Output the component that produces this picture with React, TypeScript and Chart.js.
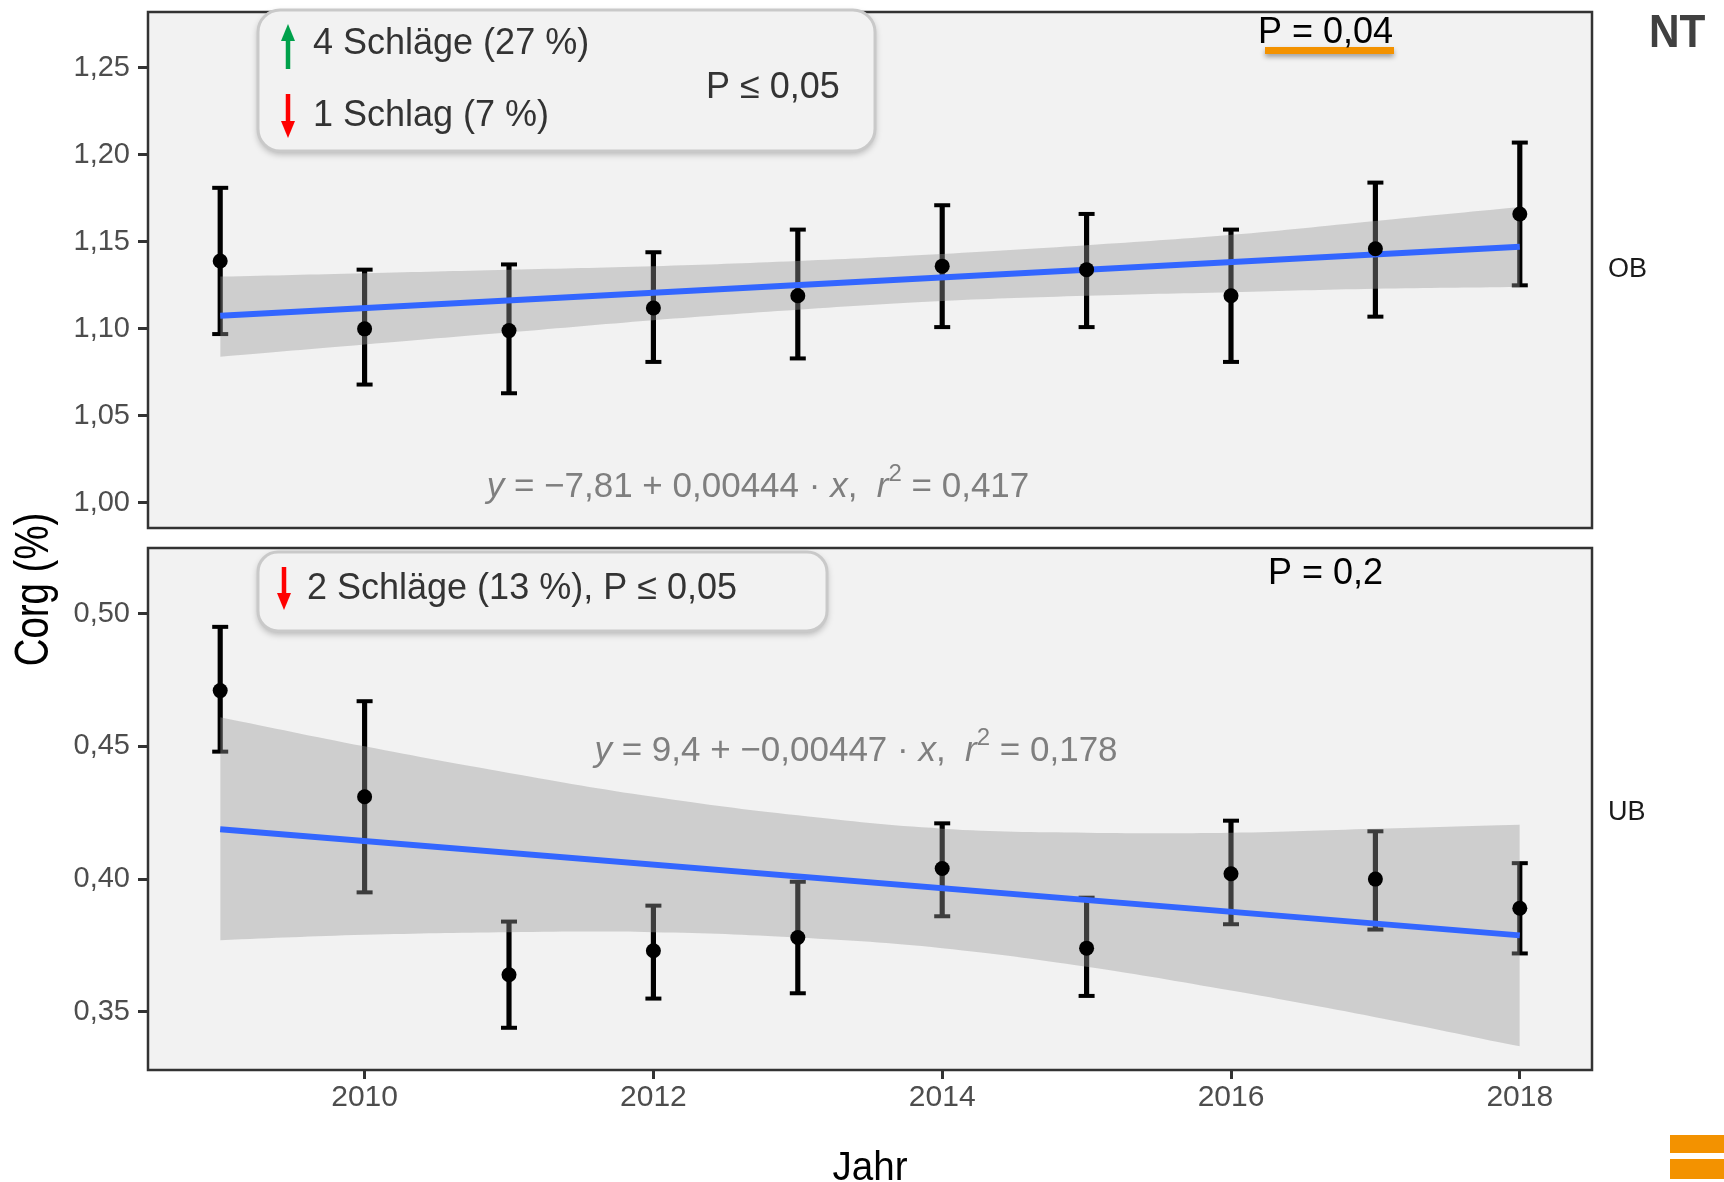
import React, { useEffect, useRef } from "react";
import { Chart, registerables } from "chart.js";

Chart.register(...registerables);

// ---------- data ----------
const years = [2009, 2010, 2011, 2012, 2013, 2014, 2015, 2016, 2017, 2018];
const fitYears = [2009, 2018];
const xTicks = [2010, 2012, 2014, 2016, 2018];

// OB (Oberboden)
const obMean = [1.139, 1.1, 1.099, 1.112, 1.119, 1.136, 1.134, 1.119, 1.146, 1.166];
const obLow = [1.097, 1.068, 1.063, 1.081, 1.083, 1.101, 1.101, 1.081, 1.107, 1.125];
const obHigh = [1.181, 1.134, 1.137, 1.144, 1.157, 1.171, 1.166, 1.157, 1.184, 1.207];
const obBandLow = [1.084, 1.091, 1.098, 1.105, 1.111, 1.116, 1.119, 1.121, 1.123, 1.124];
const obBandHigh = [1.13, 1.132, 1.134, 1.136, 1.139, 1.143, 1.148, 1.154, 1.162, 1.17];
const obFit = [1.1075, 1.1472];
const obTicks = [1.0, 1.05, 1.1, 1.15, 1.2, 1.25];

// UB (Unterboden)
const ubMean = [0.471, 0.431, 0.364, 0.373, 0.378, 0.404, 0.374, 0.402, 0.4, 0.389];
const ubLow = [0.448, 0.395, 0.344, 0.355, 0.357, 0.386, 0.356, 0.383, 0.381, 0.372];
const ubHigh = [0.495, 0.467, 0.384, 0.39, 0.399, 0.421, 0.393, 0.422, 0.418, 0.406];
const ubBandLow = [0.377, 0.379, 0.38, 0.38, 0.378, 0.374, 0.367, 0.358, 0.348, 0.337];
const ubBandHigh = [0.461, 0.45, 0.44, 0.431, 0.424, 0.419, 0.4175, 0.4175, 0.419, 0.4205];
const ubFit = [0.4188, 0.3788];
const ubTicks = [0.35, 0.4, 0.45, 0.5];

// ---------- layout / style ----------
const W = 1724;
const H = 1182;
const FONT = "'Liberation Sans', Arial, Helvetica, sans-serif";
const PANEL_BG = "#f2f2f2";

type Seg = { t: string; it?: boolean; sup?: boolean };

function drawSegs(ctx: CanvasRenderingContext2D, segs: Seg[], cx: number, by: number, size: number, color: string) {
  ctx.save();
  ctx.fillStyle = color;
  ctx.textBaseline = "alphabetic";
  ctx.textAlign = "left";
  const fontFor = (s: Seg) => `${s.it ? "italic " : ""}${s.sup ? Math.round(size * 0.68) : size}px ${FONT}`;
  let total = 0;
  const widths = segs.map((s) => {
    ctx.font = fontFor(s);
    const w = ctx.measureText(s.t).width;
    total += w;
    return w;
  });
  let x = cx - total / 2;
  segs.forEach((s, i) => {
    ctx.font = fontFor(s);
    ctx.fillText(s.t, x, s.sup ? by - size * 0.45 : by);
    x += widths[i];
  });
  ctx.restore();
}

function text(
  ctx: CanvasRenderingContext2D,
  s: string,
  x: number,
  y: number,
  size: number,
  color: string,
  opts: { bold?: boolean; scaleX?: number; align?: CanvasTextAlign } = {}
) {
  ctx.save();
  ctx.translate(x, y);
  if (opts.scaleX) ctx.scale(opts.scaleX, 1);
  ctx.font = `${opts.bold ? "bold " : ""}${size}px ${FONT}`;
  ctx.fillStyle = color;
  ctx.textAlign = opts.align || "left";
  ctx.textBaseline = "alphabetic";
  ctx.fillText(s, 0, 0);
  ctx.restore();
}

function box(ctx: CanvasRenderingContext2D, x: number, y: number, w: number, h: number, r: number) {
  ctx.save();
  ctx.shadowColor = "rgba(0,0,0,0.28)";
  ctx.shadowBlur = 7;
  ctx.shadowOffsetY = 3;
  ctx.beginPath();
  (ctx as any).roundRect(x, y, w, h, r);
  ctx.fillStyle = PANEL_BG;
  ctx.fill();
  ctx.restore();
  ctx.save();
  ctx.beginPath();
  (ctx as any).roundRect(x, y, w, h, r);
  ctx.strokeStyle = "#c9c9c9";
  ctx.lineWidth = 3;
  ctx.stroke();
  ctx.restore();
}

function arrow(ctx: CanvasRenderingContext2D, x: number, yTail: number, yTip: number, color: string) {
  const dir = yTip < yTail ? -1 : 1;
  const headLen = 17;
  const headW = 7;
  ctx.save();
  ctx.strokeStyle = color;
  ctx.fillStyle = color;
  ctx.lineWidth = 4.5;
  ctx.beginPath();
  ctx.moveTo(x, yTail);
  ctx.lineTo(x, yTip - dir * headLen + dir * 2);
  ctx.stroke();
  ctx.beginPath();
  ctx.moveTo(x, yTip);
  ctx.lineTo(x - headW, yTip - dir * headLen);
  ctx.lineTo(x + headW, yTip - dir * headLen);
  ctx.closePath();
  ctx.fill();
  ctx.restore();
}

type PanelSpec = {
  mean: number[];
  low: number[];
  high: number[];
  bandLow: number[];
  bandHigh: number[];
  fit: number[];
  yMin: number;
  yMax: number;
  yTicks: number[];
  padding: { top: number; right: number; bottom: number; left: number };
  showX: boolean;
  extra: (ctx: CanvasRenderingContext2D, chart: any) => void;
};

function makeConfig(p: PanelSpec): any {
  const datasets: any[] = [
    {
      type: "bar",
      data: years.map((x, i) => ({ x, y: [p.low[i], p.high[i]] })),
      backgroundColor: "#000",
      borderWidth: 0,
      barThickness: 4.5,
      order: 3,
    },
    {
      type: "scatter",
      data: years.flatMap((x, i) => [
        { x, y: p.low[i] },
        { x, y: p.high[i] },
      ]),
      pointStyle: "line",
      pointRadius: 8,
      pointBorderWidth: 4,
      pointBorderColor: "#000",
      borderColor: "#000",
      order: 3,
    },
    {
      type: "line",
      data: years.map((x, i) => ({ x, y: p.bandLow[i] })),
      borderColor: "rgba(0,0,0,0)",
      borderWidth: 1,
      pointRadius: 0,
      fill: false,
      tension: 0.4,
      order: 2,
    },
    {
      type: "line",
      data: years.map((x, i) => ({ x, y: p.bandHigh[i] })),
      borderColor: "rgba(0,0,0,0)",
      borderWidth: 1,
      pointRadius: 0,
      fill: "-1",
      backgroundColor: "rgba(153,153,153,0.4)",
      tension: 0.4,
      order: 2,
    },
    {
      type: "line",
      data: fitYears.map((x, i) => ({ x, y: p.fit[i] })),
      borderColor: "#3366FF",
      borderWidth: 6,
      pointRadius: 0,
      fill: false,
      order: 1,
    },
    {
      type: "scatter",
      data: years.map((x, i) => ({ x, y: p.mean[i] })),
      pointRadius: 7.5,
      pointBackgroundColor: "#000",
      pointBorderWidth: 0,
      borderWidth: 0,
      order: 0,
    },
  ];

  const panelPlugin = {
    id: "panel",
    beforeDraw(chart: any) {
      const { ctx, chartArea: a } = chart;
      ctx.save();
      ctx.fillStyle = PANEL_BG;
      ctx.fillRect(a.left, a.top, a.right - a.left, a.bottom - a.top);
      ctx.restore();
    },
    afterDatasetsDraw(chart: any) {
      const { ctx, chartArea: a } = chart;
      ctx.save();
      ctx.strokeStyle = "#333333";
      ctx.lineWidth = 2.5;
      ctx.strokeRect(a.left, a.top, a.right - a.left, a.bottom - a.top);
      ctx.restore();
    },
    afterDraw(chart: any) {
      p.extra(chart.ctx, chart);
    },
  };

  const tickGrid = (len: number) => ({
    display: true,
    offset: false,
    drawOnChartArea: false,
    drawTicks: true,
    tickLength: len,
    tickWidth: 3,
    tickColor: "#333333",
    color: "#333333",
  });

  return {
    type: "line",
    data: { datasets },
    plugins: [panelPlugin],
    options: {
      responsive: false,
      animation: false,
      devicePixelRatio: 1,
      events: [],
      layout: { padding: p.padding },
      plugins: { legend: { display: false }, tooltip: { enabled: false } },
      scales: {
        x: {
          type: "linear",
          offset: false,
          min: 2008.5,
          max: 2018.5,
          display: p.showX,
          afterBuildTicks: (s: any) => {
            s.ticks = xTicks.map((v) => ({ value: v }));
          },
          afterFit: (s: any) => {
            if (p.showX) {
              s.height = 112;
              s.paddingLeft = 0;
              s.paddingRight = 0;
            }
          },
          grid: tickGrid(9),
          border: { display: false },
          ticks: {
            font: { size: 30, family: FONT },
            color: "#4d4d4d",
            padding: 1,
            maxRotation: 0,
            autoSkip: false,
            callback: (v: any) => String(v),
          },
        },
        y: {
          type: "linear",
          offset: false,
          min: p.yMin,
          max: p.yMax,
          afterBuildTicks: (s: any) => {
            s.ticks = p.yTicks.map((v) => ({ value: v }));
          },
          afterFit: (s: any) => {
            s.width = 148;
            s.paddingTop = 0;
            s.paddingBottom = 0;
          },
          grid: tickGrid(10),
          border: { display: false },
          ticks: {
            font: { size: 29, family: FONT },
            color: "#4d4d4d",
            padding: 8,
            callback: (v: any) => Number(v).toFixed(2).replace(".", ","),
          },
        },
      },
    },
  };
}

export default function App() {
  const topRef = useRef<HTMLCanvasElement>(null);
  const botRef = useRef<HTMLCanvasElement>(null);

  useEffect(() => {
    document.body.style.margin = "0";
    document.body.style.overflow = "hidden";
    Chart.defaults.font.family = FONT;

    const top = new Chart(
      topRef.current as HTMLCanvasElement,
      makeConfig({
        mean: obMean,
        low: obLow,
        high: obHigh,
        bandLow: obBandLow,
        bandHigh: obBandHigh,
        fit: obFit,
        yMin: 0.9856,
        yMax: 1.282,
        yTicks: obTicks,
        padding: { top: 8, right: 132, bottom: H - 528, left: 0 },
        showX: false,
        extra: (ctx) => {
          box(ctx, 258, 10, 617, 141, 22);
          arrow(ctx, 288, 69, 24, "#00a14b");
          arrow(ctx, 288, 94, 138, "#ff0000");
          text(ctx, "4 Schläge (27 %)", 313, 54, 36, "#333333");
          text(ctx, "1 Schlag (7 %)", 313, 126, 36, "#333333");
          text(ctx, "P ≤ 0,05", 706, 98, 36, "#333333");
          // P value with orange underline
          ctx.save();
          ctx.shadowColor = "rgba(0,0,0,0.35)";
          ctx.shadowBlur = 5;
          ctx.shadowOffsetY = 3;
          ctx.fillStyle = "#f39200";
          ctx.fillRect(1265, 47, 129, 7);
          ctx.restore();
          text(ctx, "P = 0,04", 1258, 43, 36, "#000000");
          drawSegs(
            ctx,
            [
              { t: "y", it: true },
              { t: " = −7,81 + 0,00444 · " },
              { t: "x", it: true },
              { t: ",  " },
              { t: "r", it: true },
              { t: "2", sup: true },
              { t: " = 0,417" },
            ],
            758,
            497,
            35,
            "#7f7f7f"
          );
          text(ctx, "OB", 1608, 277, 27, "#1a1a1a");
          text(ctx, "NT", 1649, 47, 47, "#404040", { bold: true, scaleX: 0.9 });
        },
      })
    );

    const bottom = new Chart(
      botRef.current as HTMLCanvasElement,
      makeConfig({
        mean: ubMean,
        low: ubLow,
        high: ubHigh,
        bandLow: ubBandLow,
        bandHigh: ubBandHigh,
        fit: ubFit,
        yMin: 0.3281,
        yMax: 0.5247,
        yTicks: ubTicks,
        padding: { top: 548, right: 132, bottom: 0, left: 0 },
        showX: true,
        extra: (ctx) => {
          box(ctx, 258, 552, 569, 79, 20);
          arrow(ctx, 284, 567, 610, "#ff0000");
          text(ctx, "2 Schläge (13 %), P ≤ 0,05", 307, 599, 36, "#333333");
          text(ctx, "P = 0,2", 1268, 584, 36, "#000000");
          drawSegs(
            ctx,
            [
              { t: "y", it: true },
              { t: " = 9,4 + −0,00447 · " },
              { t: "x", it: true },
              { t: ",  " },
              { t: "r", it: true },
              { t: "2", sup: true },
              { t: " = 0,178" },
            ],
            856,
            761,
            35,
            "#7f7f7f"
          );
          text(ctx, "UB", 1608, 820, 27, "#1a1a1a");
          // axis titles
          text(ctx, "Jahr", 870, 1180, 41, "#000000", { align: "center", scaleX: 0.94 });
          ctx.save();
          ctx.translate(48, 589.5);
          ctx.rotate(-Math.PI / 2);
          ctx.scale(0.8, 1);
          ctx.font = `48px ${FONT}`;
          ctx.fillStyle = "#000000";
          ctx.textAlign = "center";
          ctx.textBaseline = "alphabetic";
          ctx.fillText("Corg (%)", 0, 0);
          ctx.restore();
          // orange brand bars
          ctx.save();
          ctx.fillStyle = "#f39200";
          ctx.fillRect(1670, 1135, 54, 18);
          ctx.fillRect(1670, 1159, 54, 20);
          ctx.restore();
        },
      })
    );

    return () => {
      top.destroy();
      bottom.destroy();
    };
  }, []);

  const canvasStyle: React.CSSProperties = { position: "absolute", left: 0, top: 0, width: W, height: H };
  return (
    <div style={{ position: "relative", width: W, height: H, background: "#ffffff" }}>
      <canvas ref={botRef} width={W} height={H} style={canvasStyle} />
      <canvas ref={topRef} width={W} height={H} style={canvasStyle} />
    </div>
  );
}
